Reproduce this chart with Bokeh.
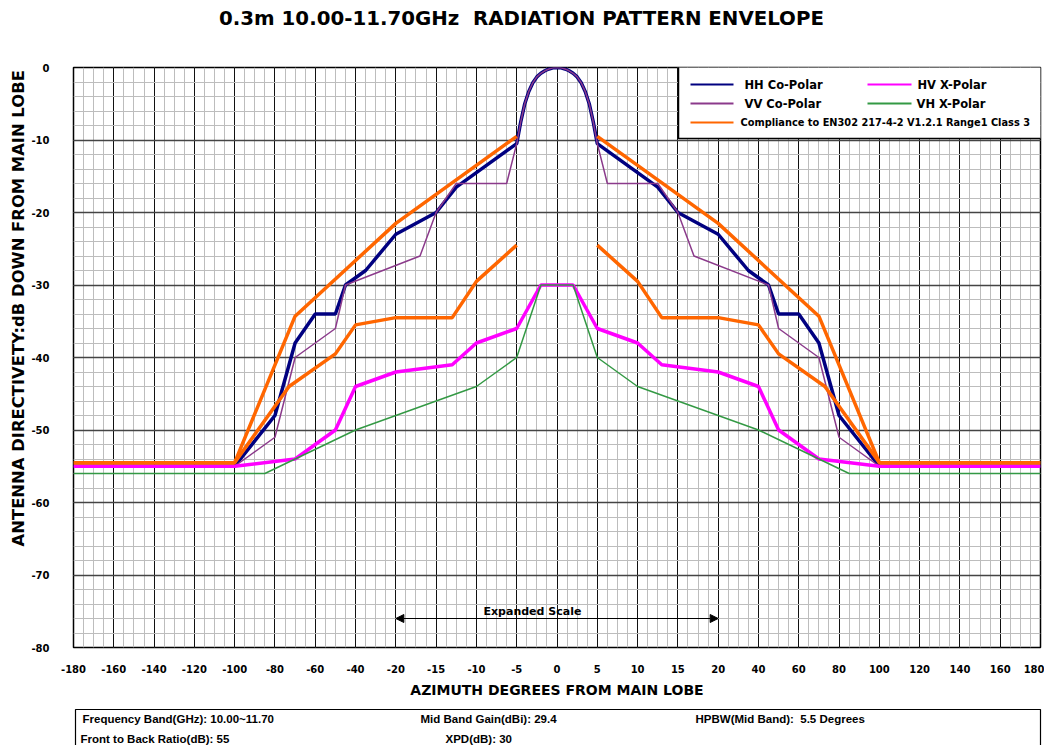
import math
from bokeh.plotting import figure
from bokeh.layouts import column, row
from bokeh.models import FixedTicker, SingleIntervalTicker, Arrow, NormalHead
from bokeh.core.properties import value
from bokeh.embed import file_html
from bokeh.resources import INLINE

# ---------------- data (azimuth in degrees, level in dB) ----------------
TICK_DEG = [-180, -160, -140, -120, -100, -80, -60, -40, -20, -15, -10, -5, 0,
            5, 10, 15, 20, 40, 60, 80, 100, 120, 140, 160, 180]
Y_TICKS = [0, -10, -20, -30, -40, -50, -60, -70, -80]

HH_deg = [-180, -100, -80, -70, -60, -50, -45, -35, -20, -15, -12.5, -5, -4.5, -4, -3.5, -3, -2.5, -2, -1.5, -1, -0.5, 0,
          0.5, 1, 1.5, 2, 2.5, 3, 3.5, 4, 4.5, 5, 12.5, 15, 20, 35, 45, 50, 60, 70, 80, 100, 180]
HH_db = [-55, -55, -48, -38, -34, -34, -30, -28, -23, -20, -16.5, -10.5, -7.5, -5.0, -3.3, -2.1, -1.3, -0.8, -0.45, -0.2, -0.05, 0,
         -0.05, -0.2, -0.45, -0.8, -1.3, -2.1, -3.3, -5.0, -7.5, -10.5, -16.5, -20, -23, -28, -30, -34, -34, -38, -48, -55, -55]

VV_deg = [-180, -100, -80, -70, -50, -45, -17, -15, -12.5, -6.25, -5, -4.5, -4, -3.5, -3, -2.5, -2, -1.5, -1, -0.5, 0,
          0.5, 1, 1.5, 2, 2.5, 3, 3.5, 4, 4.5, 5, 6.25, 12.5, 15, 17, 45, 50, 70, 80, 100, 180]
VV_db = [-55, -55, -51, -40, -36, -30, -26, -20, -16, -16, -10.5, -7.5, -5.0, -3.3, -2.1, -1.3, -0.8, -0.45, -0.2, -0.05, 0,
         -0.05, -0.2, -0.45, -0.8, -1.3, -2.1, -3.3, -5.0, -7.5, -10.5, -16, -16, -20, -26, -30, -36, -40, -51, -55, -55]

HV_deg = [-180, -100, -70, -50, -40, -20, -13, -10, -5, -2, 2, 5, 10, 13, 20, 40, 50, 70, 100, 180]
HV_db = [-55, -55, -54, -50, -44, -42, -41, -38, -36, -30, -30, -36, -38, -41, -42, -44, -50, -54, -55, -55]

VH_deg = [-180, -85, -40, -10, -5, -2, 2, 5, 10, 40, 85, 180]
VH_db = [-56, -56, -50, -44, -40, -30, -30, -40, -44, -50, -56, -56]

ENV_UP_L_deg = [-180, -100, -70, -20, -5]
ENV_UP_L_db = [-54.5, -54.5, -34.3, -21.5, -9.5]
ENV_UP_R_deg = [5, 20, 70, 100, 180]
ENV_UP_R_db = [-9.5, -21.5, -34.3, -54.5, -54.5]
ENV_LO_L_deg = [-180, -100, -73, -50, -40, -20, -13, -10, -5]
ENV_LO_L_db = [-54.5, -54.5, -44, -39.5, -35.5, -34.5, -34.5, -29.5, -24.5]
ENV_LO_R_deg = [5, 10, 13, 20, 40, 50, 73, 100, 180]
ENV_LO_R_db = [-24.5, -29.5, -34.5, -34.5, -35.5, -39.5, -44, -54.5, -54.5]

SERIES_NAMES = ["HH Co-Polar", "HV X-Polar", "VV Co-Polar", "VH X-Polar",
                "Compliance to EN302 217-4-2 V1.2.1 Range1 Class 3"]
COLORS = {"HH": "#000080", "VV": "#8B3A8B", "HV": "#FF00FF", "VH": "#339944", "ENV": "#FF6600"}

TITLE = "0.3m 10.00-11.70GHz\u00a0 RADIATION PATTERN ENVELOPE"
X_TITLE = "AZIMUTH DEGREES FROM MAIN LOBE"
Y_TITLE = "ANTENNA DIRECTIVETY:dB DOWN FROM MAIN LOBE"
INFO_ROW1 = ["Frequency Band(GHz): 10.00~11.70", "Mid Band Gain(dBi): 29.4", "HPBW(Mid Band):\u00a0 5.5 Degrees"]
INFO_ROW2 = ["Front to Back Ratio(dB): 55", "XPD(dB): 30"]


# piecewise azimuth scale: +-20 deg expanded (5 deg per division), outside 20 deg per division
def to_u(d):
    a = abs(d)
    s = -1 if d < 0 else 1
    if a <= 20:
        return s * a / 5.0
    return s * (4 + (a - 20) / 20.0)


def U(lst):
    return [to_u(v) for v in lst]


# page-pixel helpers for decoration placement (frame: x 73..1040, y 67..647)
def ux(px):
    return (px - 556.5) / (967 / 24.0)


def dy(py):
    return -(py - 67) / 7.25


FONT = "DejaVu Sans"
ARIAL = "Liberation Sans"


def bare(fig):
    fig.outline_line_color = None
    fig.xgrid.visible = False
    fig.ygrid.visible = False
    return fig


# ---------------- title strip ----------------
p0 = bare(figure(width=1044, height=48, x_range=(0, 1044), y_range=(48, 0),
                 x_axis_type=None, y_axis_type=None, min_border=0,
                 output_backend="svg", toolbar_location=None))
p0.text([521], [18], text=[TITLE], text_font=value(FONT), text_font_style="bold",
        text_font_size="19.8px", text_align="center", text_baseline="middle", text_color="black")

# ---------------- y title strip ----------------
pl = bare(figure(width=28, height=660, x_range=(0, 28), y_range=(708, 48),
                 x_axis_type=None, y_axis_type=None, min_border=0,
                 output_backend="svg", toolbar_location=None))
pl.text([18], [322], text=[Y_TITLE], angle=math.pi / 2, text_font=value(FONT), text_font_style="bold",
        text_font_size="16.4px", text_align="center", text_baseline="middle", text_color="black")

# ---------------- main chart ----------------
p = figure(width=1016, height=660, x_range=(-12, 12), y_range=(-80, 0),
           min_border_left=45, min_border_right=4, min_border_top=19, min_border_bottom=61,
           output_backend="svg", toolbar_location=None)
p.outline_line_color = "black"
p.outline_line_width = 1.5

xt = FixedTicker(ticks=list(range(-12, 13)), minor_ticks=[i / 4 for i in range(-48, 49)])
p.xaxis.ticker = xt
p.xgrid.ticker = xt
p.xaxis.major_label_overrides = {to_u(d): str(d) for d in TICK_DEG}
yt = SingleIntervalTicker(interval=10, num_minor_ticks=5)
p.yaxis.ticker = yt
p.ygrid.ticker = yt
p.yaxis.major_label_overrides = {v: str(v) for v in Y_TICKS}

for ax in (p.xaxis, p.yaxis):
    ax.axis_line_color = None
    ax.major_tick_line_color = None
    ax.minor_tick_line_color = None
    ax.major_label_text_font = FONT
    ax.major_label_text_font_style = "bold"
    ax.major_label_text_font_size = "10px"
    ax.major_label_text_color = "black"
p.xaxis.major_label_standoff = 11
p.yaxis.major_label_standoff = 18
p.xaxis.axis_label = X_TITLE
p.xaxis.axis_label_text_font = FONT
p.xaxis.axis_label_text_font_style = "bold"
p.xaxis.axis_label_text_font_size = "14px"
p.xaxis.axis_label_text_color = "black"
p.xaxis.axis_label_standoff = 6

p.xgrid.grid_line_color = "#111111"
p.xgrid.grid_line_width = 1
p.xgrid.minor_grid_line_color = "#bdbdbd"
p.xgrid.minor_grid_line_width = 1
p.ygrid.grid_line_color = "#444444"
p.ygrid.grid_line_width = 1.5
p.ygrid.minor_grid_line_color = "#bdbdbd"
p.ygrid.minor_grid_line_width = 1

# series
p.line(U(HH_deg), HH_db, line_color=COLORS["HH"], line_width=3.5)
p.line(U(VV_deg), VV_db, line_color=COLORS["VV"], line_width=1.5)
p.line(U(HV_deg), HV_db, line_color=COLORS["HV"], line_width=3.5)
p.line(U(VH_deg), VH_db, line_color=COLORS["VH"], line_width=1.5)
for xs, ys in ((ENV_UP_L_deg, ENV_UP_L_db), (ENV_UP_R_deg, ENV_UP_R_db),
               (ENV_LO_L_deg, ENV_LO_L_db), (ENV_LO_R_deg, ENV_LO_R_db)):
    p.line(U(xs), ys, line_color=COLORS["ENV"], line_width=3.5)

# legend box (manual)
p.quad(left=[ux(678)], right=[ux(1041)], top=[dy(66)], bottom=[dy(138)],
       fill_color="white", line_color="black", line_width=1.5)
leg = [("HH", SERIES_NAMES[0], 690, 733, 744, 84, "11.5px"),
       ("HV", SERIES_NAMES[1], 867, 911, 917, 84, "11.5px"),
       ("VV", SERIES_NAMES[2], 690, 733, 744, 103, "11.5px"),
       ("VH", SERIES_NAMES[3], 867, 911, 916, 103, "11.5px"),
       ("ENV", SERIES_NAMES[4], 690, 733, 740, 122, "9.8px")]
for key, name, x0, x1, xt0, yy, fs in leg:
    p.line([ux(x0), ux(x1)], [dy(yy), dy(yy)], line_color=COLORS[key], line_width=2)
    p.text([ux(xt0)], [dy(yy)], text=[name], text_font=value(FONT),
           text_font_style="bold", text_font_size=fs, text_baseline="middle", text_color="black")

# expanded-scale arrow
p.add_layout(Arrow(x_start=to_u(-20), x_end=to_u(20), y_start=-76, y_end=-76,
                   line_color="black", line_width=1,
                   start=NormalHead(size=8, fill_color="black", line_color="black"),
                   end=NormalHead(size=8, fill_color="black", line_color="black")))
p.text([ux(483)], [dy(611)], text=["Expanded Scale"], text_font=value(FONT), text_font_style="bold",
       text_font_size="11px", text_baseline="middle", text_color="black")

# ---------------- info box ----------------
p2 = bare(figure(width=1044, height=37, x_range=(0, 1044), y_range=(745, 708),
                 x_axis_type=None, y_axis_type=None, min_border=0,
                 output_backend="svg", toolbar_location=None))
p2.multi_line([[75, 75, 1040, 1040]], [[746, 709, 709, 746]], line_color="black", line_width=1.2)
p2.text([82, 420, 695], [718, 718, 718], text=INFO_ROW1, text_font=value(ARIAL),
        text_font_style="bold", text_font_size="11.5px", text_baseline="middle", text_color="black")
p2.text([80, 445], [738, 738], text=INFO_ROW2, text_font=value(ARIAL),
        text_font_style="bold", text_font_size="11.5px", text_baseline="middle", text_color="black")

layout = column(p0, row(pl, p, spacing=0), p2, spacing=0)
open("out.html", "w").write(file_html(layout, INLINE))
